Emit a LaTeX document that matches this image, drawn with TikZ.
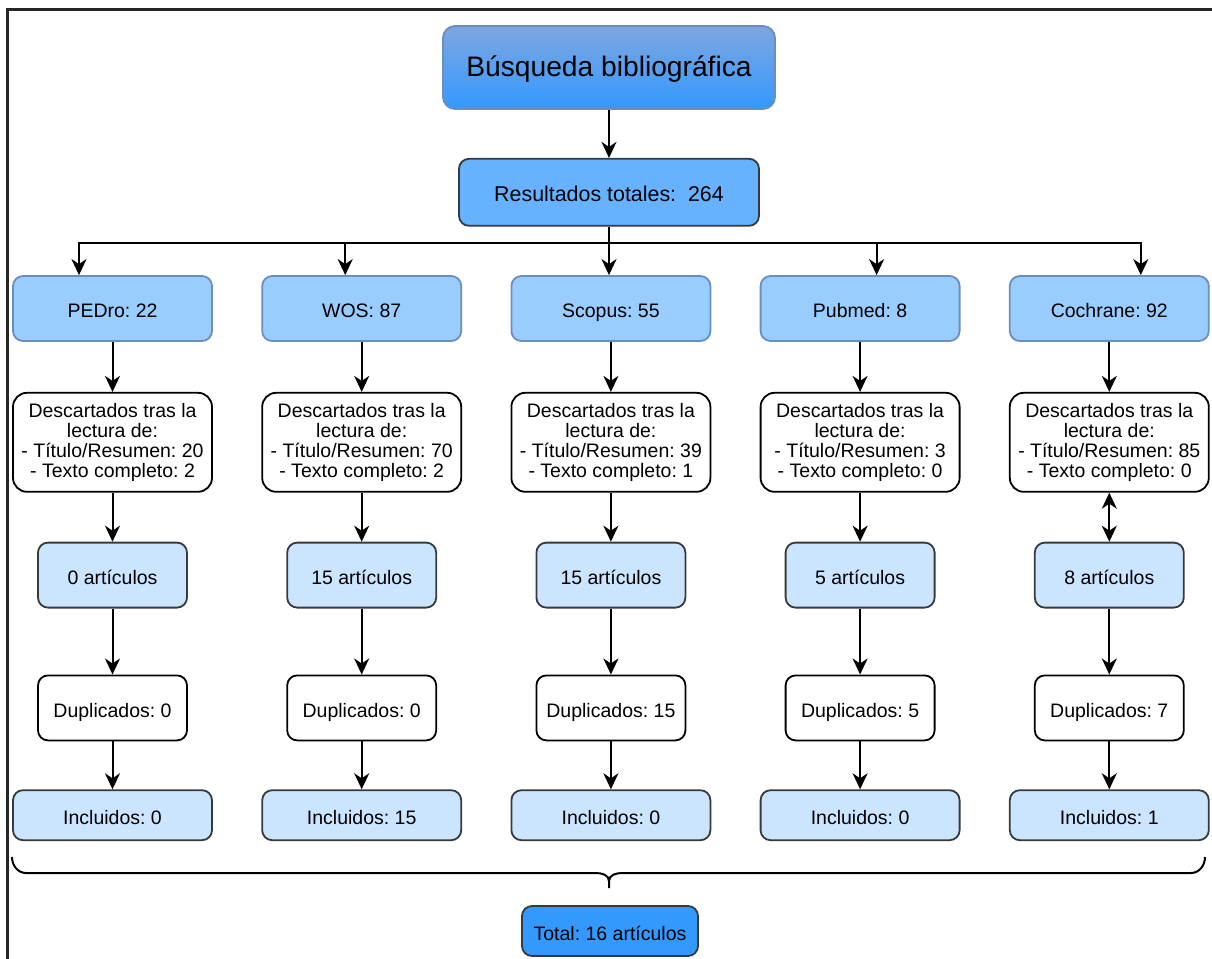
\documentclass[tikz,border=0pt]{standalone}
\usepackage{fontspec}
\setmainfont{Liberation Sans}
\usepackage{xcolor}
\usetikzlibrary{arrows.meta,positioning}
\frenchspacing

\definecolor{titletop}{HTML}{7EA6E0}
\definecolor{titlebot}{HTML}{3399FF}
\definecolor{blueline}{HTML}{6C8EBF}
\definecolor{darkline}{HTML}{36393D}
\definecolor{resfill}{HTML}{66B2FF}
\definecolor{dbfill}{HTML}{99CCFF}
\definecolor{palefill}{HTML}{CCE5FF}
\definecolor{totfill}{HTML}{3399FF}

\begin{document}
\begin{tikzpicture}[x=0.5pt, y=-0.5pt, >={Stealth[length=8pt,width=7.5pt,inset=2.5pt]},
  line width=1pt, font=\fontsize{9.75}{10}\selectfont, node distance=24.5pt and 24.2pt,
  base/.style={draw, rounded corners=5pt, align=center, inner sep=1pt, line width=0.9pt},
  oneline/.style={base, text height=1em, text depth=0.08em},
  titlebox/.style={oneline, draw=blueline, top color=titletop, bottom color=titlebot, rounded corners=6pt,
    minimum width=166pt, minimum height=41.5pt, font=\fontsize{14.1}{16}\selectfont},
  resbox/.style={oneline, draw=darkline, fill=resfill, minimum width=150pt, minimum height=33.5pt,
    font=\fontsize{10.7}{12}\selectfont},
  dbbox/.style={oneline, draw=blueline, fill=dbfill, minimum width=99.5pt, minimum height=32.5pt},
  descbox/.style={base, fill=white, rounded corners=7pt, minimum width=99.5pt, minimum height=49.5pt},
  artbox/.style={oneline, draw=darkline, fill=palefill, minimum width=74.5pt, minimum height=32.5pt},
  dupbox/.style={oneline, fill=white, minimum width=74.5pt, minimum height=32.5pt},
  incbox/.style={oneline, draw=darkline, fill=palefill, minimum width=99.5pt, minimum height=25pt},
  totbox/.style={oneline, draw=darkline, fill=totfill, minimum width=88pt, minimum height=25pt}]
\useasboundingbox (0,0) rectangle (1212,959);
\draw[line width=1.5pt, black!85] (7,959) -- (7,9) -- (1212,9);

\node[titlebox] (t) at (609,67.5) {Búsqueda bibliográfica};
\node[resbox, below=24pt of t] (res) {Resultados totales:\ \ 264};

\node[dbbox] (db1) at (112.5,308.5) {PEDro: 22};
\node[dbbox, right=of db1] (db2) {WOS: 87};
\node[dbbox, right=of db2] (db3) {Scopus: 55};
\node[dbbox, right=of db3] (db4) {Pubmed: 8};
\node[dbbox, right=of db4] (db5) {Cochrane: 92};

\node[descbox, below=25pt of db1] (ds1) {Descartados tras la\\lectura de:\\- Título/Resumen: 20\\- Texto completo: 2};
\node[descbox, below=25pt of db2] (ds2) {Descartados tras la\\lectura de:\\- Título/Resumen: 70\\- Texto completo: 2};
\node[descbox, below=25pt of db3] (ds3) {Descartados tras la\\lectura de:\\- Título/Resumen: 39\\- Texto completo: 1};
\node[descbox, below=25pt of db4] (ds4) {Descartados tras la\\lectura de:\\- Título/Resumen: 3\\- Texto completo: 0};
\node[descbox, below=25pt of db5] (ds5) {Descartados tras la\\lectura de:\\- Título/Resumen: 85\\- Texto completo: 0};

\node[artbox, below=of ds1] (ar1) {0 artículos};
\node[artbox, below=of ds2] (ar2) {15 artículos};
\node[artbox, below=of ds3] (ar3) {15 artículos};
\node[artbox, below=of ds4] (ar4) {5 artículos};
\node[artbox, below=of ds5] (ar5) {8 artículos};

\node[dupbox, below=33pt of ar1] (du1) {Duplicados: 0};
\node[dupbox, below=33pt of ar2] (du2) {Duplicados: 0};
\node[dupbox, below=33pt of ar3] (du3) {Duplicados: 15};
\node[dupbox, below=33pt of ar4] (du4) {Duplicados: 5};
\node[dupbox, below=33pt of ar5] (du5) {Duplicados: 7};

\node[incbox, below=24pt of du1] (in1) {Incluidos: 0};
\node[incbox, below=24pt of du2] (in2) {Incluidos: 15};
\node[incbox, below=24pt of du3] (in3) {Incluidos: 0};
\node[incbox, below=24pt of du4] (in4) {Incluidos: 0};
\node[incbox, below=24pt of du5] (in5) {Incluidos: 1};

\node[totbox] (tot) at (610,931) {Total: 16 artículos};

% search -> totals -> databases
\coordinate (bus) at (609,243);
\draw[->] (t) -- (res);
\draw (res.south) -- (bus);
\draw[->] (bus) -| ([xshift=-16.75pt]db1.north);
\draw[->] (bus) -| ([xshift=-8.25pt]db2.north);
\draw[->] (bus) -- (db3.north -| bus);
\draw[->] (bus) -| ([xshift=8.25pt]db4.north);
\draw[->] (bus) -| ([xshift=15.75pt]db5.north);

% columns
\draw[->] (db1) -- (ds1); \draw[->] (ds1) -- (ar1); \draw[->] (ar1) -- (du1); \draw[->] (du1) -- (in1);
\draw[->] (db2) -- (ds2); \draw[->] (ds2) -- (ar2); \draw[->] (ar2) -- (du2); \draw[->] (du2) -- (in2);
\draw[->] (db3) -- (ds3); \draw[->] (ds3) -- (ar3); \draw[->] (ar3) -- (du3); \draw[->] (du3) -- (in3);
\draw[->] (db4) -- (ds4); \draw[->] (ds4) -- (ar4); \draw[->] (ar4) -- (du4); \draw[->] (du4) -- (in4);
\draw[->] (db5) -- (ds5); \draw[<->] (ds5) -- (ar5); \draw[->] (ar5) -- (du5); \draw[->] (du5) -- (in5);

% brace under the included boxes
\draw (12,857) to[out=-90,in=180] (26,873) -- (596,873) to[out=0,in=90] (609,881) -- (609,888)
  (609,881) to[out=90,in=180] (622,873) -- (1191,873) to[out=0,in=-90] (1205,857);
\end{tikzpicture}
\end{document}
